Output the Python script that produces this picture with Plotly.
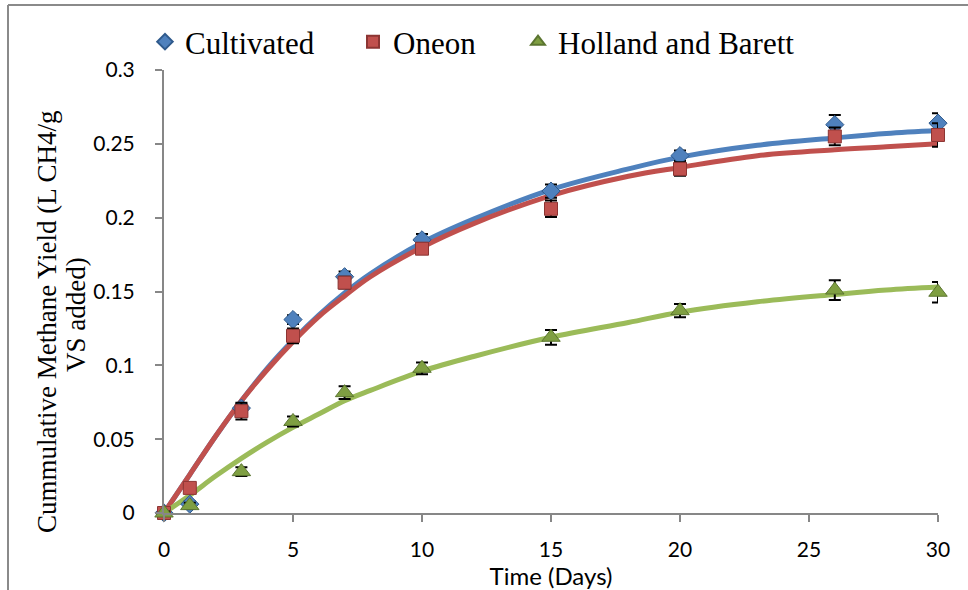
import plotly.graph_objects as go

# ---- data ----
days = [0, 1, 3, 5, 7, 10, 15, 20, 26, 30]
cultivated = [0.0, 0.006, 0.071, 0.131, 0.160, 0.185, 0.218, 0.242, 0.263, 0.264]
cultivated_err = [0.001, 0.002, 0.003, 0.003, 0.0035, 0.004, 0.0045, 0.0035, 0.0065, 0.0067]
oneon = [0.0, 0.017, 0.069, 0.120, 0.156, 0.179, 0.206, 0.233, 0.255, 0.256]
oneon_err = [0.001, 0.002, 0.0056, 0.005, 0.004, 0.0036, 0.0056, 0.0046, 0.006, 0.008]
holland = [0.0, 0.005, 0.028, 0.062, 0.0815, 0.098, 0.119, 0.137, 0.151, 0.1495]
holland_err = [0.001, 0.002, 0.003, 0.0034, 0.0043, 0.004, 0.005, 0.0045, 0.0067, 0.007]

fit_days = [0, 1, 2, 3, 4, 5, 6, 7, 8, 10, 12, 15, 18, 20, 23, 26, 28, 30]
cultivated_fit = [0, 0.026, 0.052, 0.076, 0.098, 0.117, 0.134, 0.149, 0.162, 0.183, 0.199,
                  0.219, 0.233, 0.241, 0.249, 0.254, 0.257, 0.259]
oneon_fit = [0, 0.026, 0.052, 0.076, 0.097, 0.116, 0.133, 0.147, 0.160, 0.180, 0.196,
             0.215, 0.228, 0.234, 0.242, 0.246, 0.248, 0.250]
holland_fit = [0, 0.012, 0.025, 0.037, 0.048, 0.058, 0.067, 0.076, 0.083, 0.096, 0.106,
               0.119, 0.129, 0.136, 0.143, 0.148, 0.151, 0.153]

names = ["Cultivated", "Oneon", "Holland and Barett"]
x_ticks = [0, 5, 10, 15, 20, 25, 30]
y_ticks = [0, 0.05, 0.1, 0.15, 0.2, 0.25, 0.3]
y_tick_text = ["0", "0.05", "0.1", "0.15", "0.2", "0.25", "0.3"]
y_title_lines = ["Cummulative Methane Yield (L CH4/g", "VS added)"]

BLUE, RED, GREEN = "#4F81BD", "#C0504D", "#9BBB59"
GRAY = "#878787"

fig = go.Figure()

for fy, col in [(cultivated_fit, BLUE), (oneon_fit, RED), (holland_fit, GREEN)]:
    fig.add_trace(go.Scatter(x=fit_days, y=fy, mode="lines", line=dict(color=col, width=5, shape="spline"),
                             showlegend=False, hoverinfo="skip", cliponaxis=False))

series = [
    (cultivated, cultivated_err, "diamond", 14, BLUE, "#2F5A8C", "legend"),
    (oneon, oneon_err, "square", 13, RED, "#8C3533", "legend2"),
    (holland, holland_err, "triangle-up", 16, "#7F9F42", "#5B7530", "legend3"),
]
for (ys, err, sym, sz, fill, edge, lg), nm in zip(series, names):
    fig.add_trace(go.Scatter(
        x=days, y=ys, mode="markers", name=nm, legend=lg,
        marker=dict(symbol=sym, size=sz, color=fill, line=dict(color=edge, width=1)),
        error_y=dict(type="data", array=err, visible=True, color="black", thickness=2, width=6),
        cliponaxis=False))

serif = "Liberation Serif, Times New Roman, serif"
sans = "Lato, Open Sans, sans-serif"

W, H = 968, 590
L, R, T, B = 164, 30, 70, 77
pw, ph = W - L - R, H - T - B

def px(xp):
    return (xp - L) / pw

def py(yp):
    return (H - B - yp) / ph

legend_common = dict(orientation="h", yanchor="middle", xanchor="left", y=py(42), itemsizing="constant",
                     font=dict(family=serif, size=31, color="black"), bgcolor="rgba(0,0,0,0)")

fig.update_layout(
    width=W, height=H,
    margin=dict(l=L, r=R, t=T, b=B),
    paper_bgcolor="white", plot_bgcolor="white",
    legend=dict(x=px(145), **legend_common),
    legend2=dict(x=px(353), **legend_common),
    legend3=dict(x=px(518), **legend_common),
    xaxis=dict(range=[0, 30], tickvals=x_ticks, showgrid=False, zeroline=False,
               showline=True, linecolor=GRAY, linewidth=2,
               ticks="outside", ticklen=7, tickcolor=GRAY, tickwidth=2,
               tickfont=dict(family=sans, size=21, color="black"), ticklabelstandoff=10,
               title=dict(text="Time (Days)", font=dict(family=sans, size=24, color="black"), standoff=0)),
    yaxis=dict(range=[0, 0.3], tickvals=y_ticks, ticktext=y_tick_text, showgrid=False, zeroline=False,
               showline=True, linecolor=GRAY, linewidth=2,
               ticks="outside", ticklen=7, tickcolor=GRAY, tickwidth=2,
               tickfont=dict(family=sans, size=21, color="black"), ticklabelstandoff=16),
    annotations=[
        dict(text=y_title_lines[0], textangle=-90, xref="paper", yref="paper", x=px(47), y=py(322),
             xanchor="center", yanchor="middle", showarrow=False,
             font=dict(family=serif, size=27, color="black")),
        dict(text=y_title_lines[1], textangle=-90, xref="paper", yref="paper", x=px(76), y=py(315),
             xanchor="center", yanchor="middle", showarrow=False,
             font=dict(family=serif, size=27, color="black")),
    ],
    shapes=[
        dict(type="line", xref="paper", yref="paper", x0=px(8), x1=px(970), y0=py(5), y1=py(5),
             line=dict(color="#8A8A8A", width=2)),
        dict(type="line", xref="paper", yref="paper", x0=px(8), x1=px(8), y0=py(5), y1=py(595),
             line=dict(color="#8A8A8A", width=2)),
    ],
)

fig.write_html("out.html", config={"displayModeBar": False},
               post_script="document.body.style.margin='0';document.body.style.overflow='hidden';")
